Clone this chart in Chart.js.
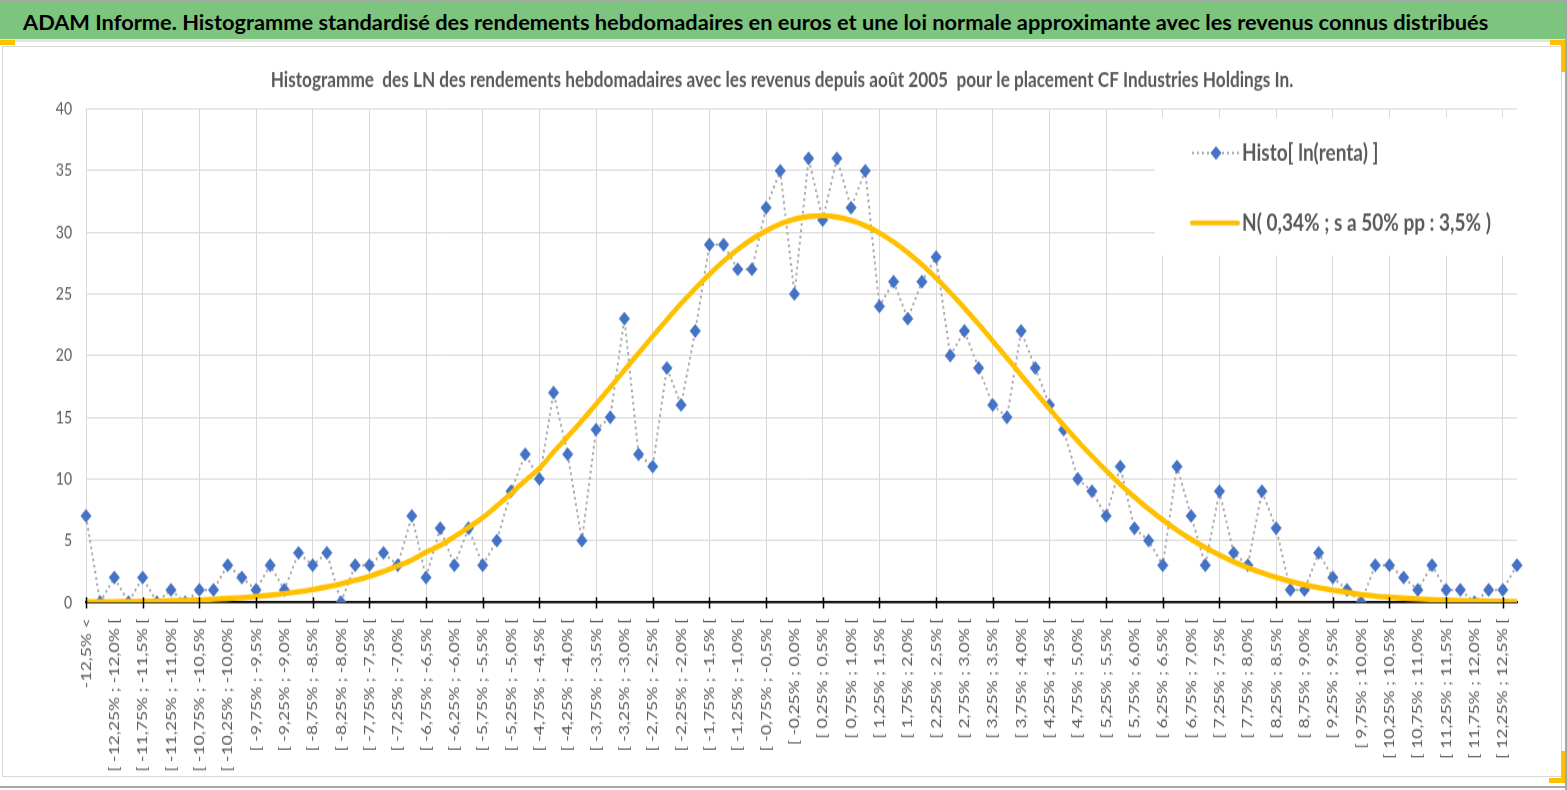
<!DOCTYPE html>
<html lang="fr">
<head>
<meta charset="utf-8">
<title>Histogramme des rendements hebdomadaires</title>
<script src="https://cdn.jsdelivr.net/npm/chart.js@4.4.1/dist/chart.umd.min.js"></script>
<style>
  html, body { margin: 0; padding: 0; background: #fff; }
  body { width: 1567px; height: 790px; position: relative; overflow: hidden; }
  #topline { position: absolute; left: 0; top: 0; width: 1567px; height: 2px; background: #a6a6a6; }
  #rightline { position: absolute; left: 1565px; top: 0; width: 2px; height: 790px; background: #a6a6a6; }
  #banner {
    position: absolute; left: 0; top: 2px; width: 1565px; height: 40px;
    background: #7dc57e; border-bottom: 3px solid #e4e4e4;
    font-family: Lato, "Open Sans", sans-serif; font-weight: bold; font-size: 21.8px;
    color: #000; line-height: 40px; padding-left: 23px; box-sizing: border-box;
  }
  #box {
    position: absolute; left: 2px; top: 46px; width: 1560px; height: 731px;
    border: 1px solid #d9d9d9; box-sizing: border-box; background: #fff;
  }
  #c { position: absolute; left: 0; top: 0; }
  #bottomline { position: absolute; left: 0; top: 786px; width: 1567px; height: 2px; background: #a6a6a6; }
  .handle { position: absolute; background: #ffc000; }
</style>
</head>
<body>
<div id="topline"></div>
<div id="banner">ADAM Informe. Histogramme standardisé des rendements hebdomadaires en euros et une loi normale approximante avec les revenus connus distribués</div>
<!-- le graphique d'origine est étiré verticalement : le canevas aussi (583 -> 729) -->
<div id="box"><canvas id="c" width="1558" height="583" style="width:1558px;height:729px"></canvas></div>
<div id="bottomline"></div>
<div id="rightline"></div>
<div class="handle" style="left:0;top:40px;width:15px;height:5px"></div>
<div class="handle" style="left:1550px;top:40px;width:15px;height:5px"></div>
<div class="handle" style="left:1561px;top:40px;width:4px;height:32px"></div>
<div class="handle" style="left:1561px;top:751px;width:4px;height:32px"></div>
<div class="handle" style="left:1549px;top:778px;width:16px;height:5px"></div>
<script>
// classes de rendements hebdomadaires (pas de 0,25%)
const categories = [
  '-12,5% <',
  '[ -12,5% ; -12,25% [', '[ -12,25% ; -12,0% [', '[ -12,0% ; -11,75% [', '[ -11,75% ; -11,5% [',
  '[ -11,5% ; -11,25% [', '[ -11,25% ; -11,0% [', '[ -11,0% ; -10,75% [', '[ -10,75% ; -10,5% [',
  '[ -10,5% ; -10,25% [', '[ -10,25% ; -10,0% [', '[ -10,0% ; -9,75% [', '[ -9,75% ; -9,5% [',
  '[ -9,5% ; -9,25% [', '[ -9,25% ; -9,0% [', '[ -9,0% ; -8,75% [', '[ -8,75% ; -8,5% [',
  '[ -8,5% ; -8,25% [', '[ -8,25% ; -8,0% [', '[ -8,0% ; -7,75% [', '[ -7,75% ; -7,5% [',
  '[ -7,5% ; -7,25% [', '[ -7,25% ; -7,0% [', '[ -7,0% ; -6,75% [', '[ -6,75% ; -6,5% [',
  '[ -6,5% ; -6,25% [', '[ -6,25% ; -6,0% [', '[ -6,0% ; -5,75% [', '[ -5,75% ; -5,5% [',
  '[ -5,5% ; -5,25% [', '[ -5,25% ; -5,0% [', '[ -5,0% ; -4,75% [', '[ -4,75% ; -4,5% [',
  '[ -4,5% ; -4,25% [', '[ -4,25% ; -4,0% [', '[ -4,0% ; -3,75% [', '[ -3,75% ; -3,5% [',
  '[ -3,5% ; -3,25% [', '[ -3,25% ; -3,0% [', '[ -3,0% ; -2,75% [', '[ -2,75% ; -2,5% [',
  '[ -2,5% ; -2,25% [', '[ -2,25% ; -2,0% [', '[ -2,0% ; -1,75% [', '[ -1,75% ; -1,5% [',
  '[ -1,5% ; -1,25% [', '[ -1,25% ; -1,0% [', '[ -1,0% ; -0,75% [', '[ -0,75% ; -0,5% [',
  '[ -0,5% ; -0,25% [', '[ -0,25% ; 0,0% [', '[ 0,0% ; 0,25% [', '[ 0,25% ; 0,5% [',
  '[ 0,5% ; 0,75% [', '[ 0,75% ; 1,0% [', '[ 1,0% ; 1,25% [', '[ 1,25% ; 1,5% [',
  '[ 1,5% ; 1,75% [', '[ 1,75% ; 2,0% [', '[ 2,0% ; 2,25% [', '[ 2,25% ; 2,5% [',
  '[ 2,5% ; 2,75% [', '[ 2,75% ; 3,0% [', '[ 3,0% ; 3,25% [', '[ 3,25% ; 3,5% [',
  '[ 3,5% ; 3,75% [', '[ 3,75% ; 4,0% [', '[ 4,0% ; 4,25% [', '[ 4,25% ; 4,5% [',
  '[ 4,5% ; 4,75% [', '[ 4,75% ; 5,0% [', '[ 5,0% ; 5,25% [', '[ 5,25% ; 5,5% [',
  '[ 5,5% ; 5,75% [', '[ 5,75% ; 6,0% [', '[ 6,0% ; 6,25% [', '[ 6,25% ; 6,5% [',
  '[ 6,5% ; 6,75% [', '[ 6,75% ; 7,0% [', '[ 7,0% ; 7,25% [', '[ 7,25% ; 7,5% [',
  '[ 7,5% ; 7,75% [', '[ 7,75% ; 8,0% [', '[ 8,0% ; 8,25% [', '[ 8,25% ; 8,5% [',
  '[ 8,5% ; 8,75% [', '[ 8,75% ; 9,0% [', '[ 9,0% ; 9,25% [', '[ 9,25% ; 9,5% [',
  '[ 9,5% ; 9,75% [', '[ 9,75% ; 10,0% [', '[ 10,0% ; 10,25% [', '[ 10,25% ; 10,5% [',
  '[ 10,5% ; 10,75% [', '[ 10,75% ; 11,0% [', '[ 11,0% ; 11,25% [', '[ 11,25% ; 11,5% [',
  '[ 11,5% ; 11,75% [', '[ 11,75% ; 12,0% [', '[ 12,0% ; 12,25% [', '[ 12,25% ; 12,5% [',
  '12,5% >'
];

// nombre de semaines par classe
const histoCounts = [
  7, 0, 2, 0, 2, 0, 1, 0, 1, 1,
  3, 2, 1, 3, 1, 4, 3, 4, 0, 3,
  3, 4, 3, 7, 2, 6, 3, 6, 3, 5,
  9, 12, 10, 17, 12, 5, 14, 15, 23, 12,
  11, 19, 16, 22, 29, 29, 27, 27, 32, 35,
  25, 36, 31, 36, 32, 35, 24, 26, 23, 26,
  28, 20, 22, 19, 16, 15, 22, 19, 16, 14,
  10, 9, 7, 11, 6, 5, 3, 11, 7, 3,
  9, 4, 3, 9, 6, 1, 1, 4, 2, 1,
  0, 3, 3, 2, 1, 3, 1, 1, 0, 1,
  1, 3
];

// loi normale approximante
const normalFit = [
  0.03, 0.03, 0.04, 0.06, 0.07, 0.09, 0.12, 0.15, 0.19, 0.24,
  0.30, 0.37, 0.46, 0.57, 0.70, 0.85, 1.03, 1.24, 1.49, 1.78,
  2.10, 2.50, 2.94, 3.43, 4.05, 4.61, 5.31, 6.07, 6.85, 7.82,
  8.81, 9.87, 10.85, 12.19, 13.44, 14.73, 16.07, 17.44, 18.82, 20.20,
  21.58, 22.92, 24.22, 25.45, 26.61, 27.67, 28.62, 29.44, 30.13, 30.68,
  31.07, 31.29, 31.35, 31.24, 30.97, 30.54, 29.96, 29.22, 28.36, 27.38,
  26.29, 25.11, 23.86, 22.55, 21.19, 19.82, 18.43, 17.05, 15.69, 14.37,
  13.08, 11.85, 10.67, 9.56, 8.53, 7.56, 6.67, 5.85, 5.10, 4.43,
  3.83, 3.29, 2.81, 2.39, 2.02, 1.70, 1.42, 1.18, 0.98, 0.80,
  0.62, 0.50, 0.41, 0.33, 0.27, 0.22, 0.18, 0.14, 0.11, 0.09,
  0.07, 0.05
];

const chartTitle = 'Histogramme  des LN des rendements hebdomadaires avec les revenus depuis août 2005  pour le placement CF Industries Holdings In.';
const histoLabel = 'Histo[ ln(renta) ]';
const normalLabel = 'N( 0,34% ; s a 50% pp : 3,5% )';

const BLUE = '#4472c4';
const GREY_DOT = '#a5a5a5';
const GOLD = '#ffc000';
const TEXT = '#595959';

Chart.defaults.font.family = 'Lato, "Open Sans", sans-serif';
Chart.defaults.color = TEXT;

// légende dans la zone de tracé, en haut à droite, sur fond blanc
const legendBox = {
  id: 'legendBox',
  afterDraw(chart) {
    const { ctx, chartArea } = chart;
    const left = chartArea.right - 362;
    const top = chartArea.top + 7;
    ctx.save();
    ctx.fillStyle = '#fff';
    ctx.fillRect(left, top, chartArea.right - left + 1, 110);

    const lx = left + 37;
    const tx = left + 87;
    ctx.font = 'bold 19px Lato, "Open Sans", sans-serif';
    ctx.textBaseline = 'middle';

    // série histogramme
    let y = top + 28;
    ctx.strokeStyle = GREY_DOT;
    ctx.lineWidth = 2;
    ctx.setLineDash([2, 3]);
    ctx.beginPath(); ctx.moveTo(lx, y); ctx.lineTo(lx + 48, y); ctx.stroke();
    ctx.setLineDash([]);
    ctx.fillStyle = BLUE;
    ctx.beginPath();
    ctx.moveTo(lx + 24 - 5.5, y); ctx.lineTo(lx + 24, y - 5.5);
    ctx.lineTo(lx + 24 + 5.5, y); ctx.lineTo(lx + 24, y + 5.5);
    ctx.closePath(); ctx.fill();
    ctx.fillStyle = TEXT;
    ctx.fillText(histoLabel, tx, y);

    // loi normale
    y = top + 84;
    ctx.strokeStyle = GOLD;
    ctx.lineWidth = 4;
    ctx.lineCap = 'round';
    ctx.beginPath(); ctx.moveTo(lx, y); ctx.lineTo(lx + 46, y); ctx.stroke();
    ctx.fillText(normalLabel, tx, y);
    ctx.restore();
  }
};

// petites graduations qui croisent l'axe horizontal
const crossTicks = {
  id: 'crossTicks',
  afterDatasetsDraw(chart) {
    const { ctx, chartArea } = chart;
    const xs = chart.scales.x;
    ctx.save();
    ctx.strokeStyle = '#000';
    ctx.lineWidth = 1.5;
    for (let i = 0; i < categories.length; i += 4) {
      const x = Math.round(xs.getPixelForTick(i)) + 0.5;
      ctx.beginPath();
      ctx.moveTo(x, chartArea.bottom - 4);
      ctx.lineTo(x, chartArea.bottom + 5);
      ctx.stroke();
    }
    ctx.restore();
  }
};

const ctx = document.getElementById('c').getContext('2d');
const chart = new Chart(ctx, {
  type: 'line',
  data: {
    labels: categories,
    datasets: [
      {
        label: histoLabel,
        data: histoCounts,
        order: 2,
        borderColor: GREY_DOT,
        borderWidth: 2,
        borderDash: [2, 3],
        tension: 0,
        fill: false,
        pointStyle: 'rectRot',
        pointRadius: 5.3,
        pointBackgroundColor: BLUE,
        pointBorderColor: BLUE,
        pointBorderWidth: 0.5
      },
      {
        label: normalLabel,
        data: normalFit,
        order: 1,
        borderColor: GOLD,
        borderWidth: 4.4,
        tension: 0.4,
        cubicInterpolationMode: 'monotone',
        fill: false,
        pointRadius: 0
      }
    ]
  },
  options: {
    responsive: false,
    animation: false,
    devicePixelRatio: 1,
    layout: { padding: { left: 44, right: 44, top: 0, bottom: 0 } },
    plugins: {
      legend: { display: false },
      tooltip: { enabled: false },
      title: {
        display: true,
        text: chartTitle,
        color: TEXT,
        font: { size: 17.2, weight: 'bold' },
        padding: { top: 16.5, bottom: 12.5 }
      }
    },
    scales: {
      x: {
        offset: false,
        grid: {
          color: c => (c.index % 4 === 0 ? '#d9d9d9' : 'rgba(0,0,0,0)'),
          lineWidth: 1,
          tickLength: 5,
          tickColor: 'rgba(0,0,0,0)'
        },
        border: { color: '#000', width: 1.8 },
        ticks: {
          autoSkip: false,
          minRotation: 90,
          maxRotation: 90,
          padding: 8,
          font: { size: 14 },
          color: TEXT,
          callback: (v, i) => (i % 2 === 0 ? categories[i] : '')
        },
        afterFit: s => { s.height = 139; }
      },
      y: {
        min: 0,
        max: 40,
        ticks: { stepSize: 5, padding: 14, font: { size: 14 }, color: TEXT },
        grid: { color: '#d9d9d9', drawTicks: false },
        border: { display: false },
        afterFit: s => { s.width = 39; }
      }
    }
  },
  plugins: [crossTicks, legendBox]
});
// garder l'étirement vertical même si Chart.js réécrit le style
chart.canvas.style.width = '1558px';
chart.canvas.style.height = '729px';
</script>
</body>
</html>
